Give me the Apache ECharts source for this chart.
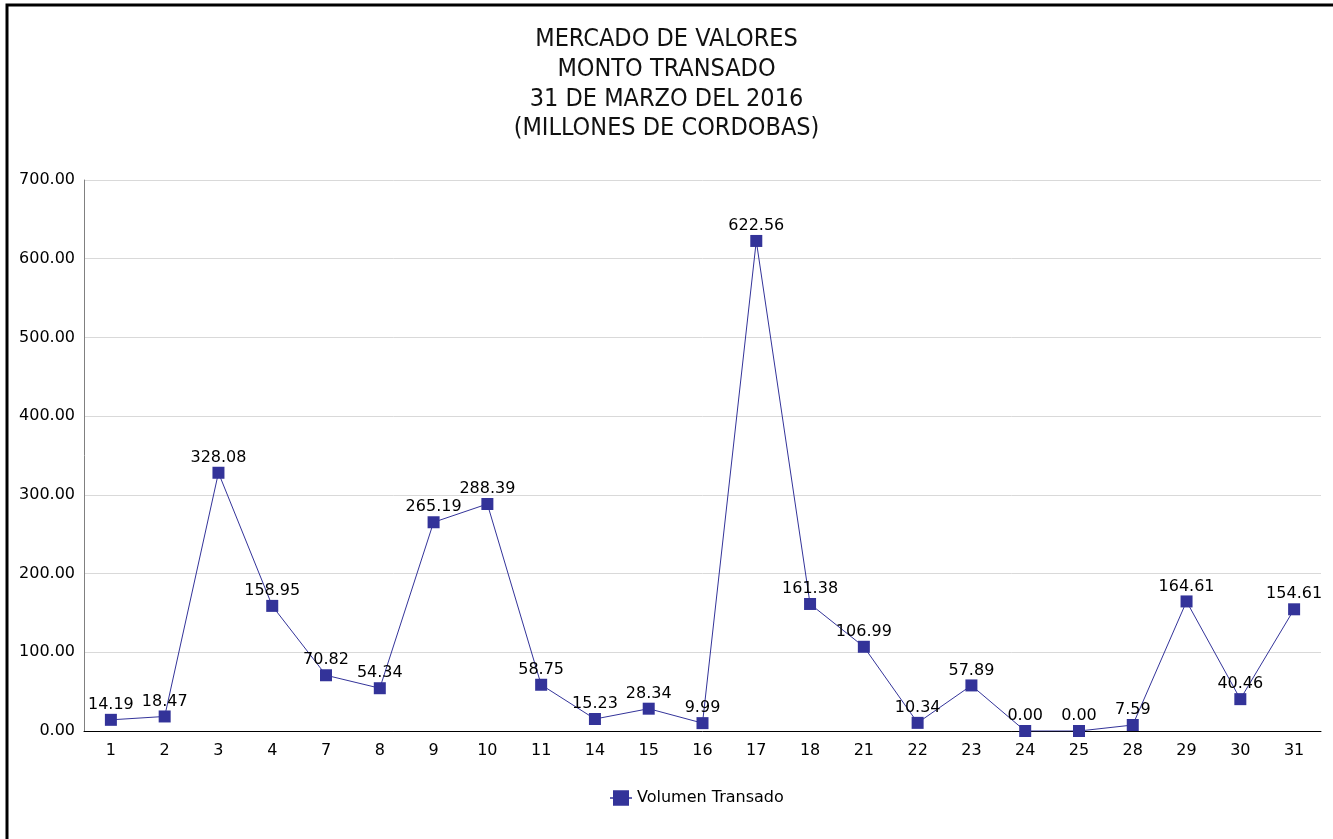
<!DOCTYPE html>
<html>
<head>
<meta charset="utf-8">
<script src="https://cdn.jsdelivr.net/npm/echarts@6/dist/echarts.min.js"></script>
<style>
  html, body { margin: 0; padding: 0; background: #fff; }
  #chart { width: 1333px; height: 839px; }
</style>
</head>
<body>
<div id="chart"></div>
<script>
// dias del mes con operaciones
const dias = ["1", "2", "3", "4", "7", "8", "9", "10", "11", "14", "15", "16",
  "17", "18", "21", "22", "23", "24", "25", "28", "29", "30", "31"];
// monto transado (millones de cordobas)
const volumen = [14.19, 18.47, 328.08, 158.95, 70.82, 54.34, 265.19, 288.39, 58.75,
  15.23, 28.34, 9.99, 622.56, 161.38, 106.99, 10.34, 57.89, 0.00, 0.00, 7.59,
  164.61, 40.46, 154.61];
const tituloLineas = ["MERCADO DE VALORES", "MONTO TRANSADO", "31 DE MARZO DEL 2016", "(MILLONES DE CORDOBAS)"];

const fuente = "DejaVu Sans";
const chart = echarts.init(document.getElementById("chart"));

chart.setOption({
  animation: false,
  backgroundColor: "#fff",
  textStyle: { fontFamily: fuente },
  title: {
    text: tituloLineas.join("\n"),
    left: "center",
    top: 20,
    textStyle: {
      fontFamily: "'DejaVu Sans Condensed', 'DejaVu Sans'",
      fontSize: 25,
      fontWeight: "normal",
      color: "#111",
      lineHeight: 29.7,
    },
  },
  graphic: [
    {
      type: "rect",
      shape: { x: 7, y: 5, width: 1400, height: 900 },
      style: { fill: null, stroke: "#000", lineWidth: 3 },
      silent: true,
    },
  ],
  legend: {
    bottom: 28,
    left: 605,
    itemWidth: 22,
    itemHeight: 16,
    itemGap: 6,
    textStyle: { fontFamily: fuente, fontSize: 16, color: "#000" },
    data: [{
      name: "Volumen Transado",
      icon: "path://M0,7h3v-7h16v7h3v1.5h-3v7h-16v-7h-3z",
    }],
  },
  grid: { left: 84, right: 12, top: 180, bottom: 108, containLabel: false },
  xAxis: {
    type: "category",
    data: dias,
    boundaryGap: true,
    axisLine: { lineStyle: { color: "#000", width: 1 } },
    axisTick: { show: false },
    axisLabel: { color: "#000", fontSize: 16, margin: 12, fontFamily: fuente },
  },
  yAxis: {
    type: "value",
    min: 0,
    max: 700,
    interval: 100,
    axisLine: { show: true, lineStyle: { color: "#808080" } },
    axisTick: { show: false },
    axisLabel: {
      color: "#000",
      fontSize: 16,
      margin: 9,
      fontFamily: fuente,
      formatter: (v) => v.toFixed(2),
    },
    splitLine: { lineStyle: { color: "#d9d9d9" } },
  },
  series: [
    {
      name: "Volumen Transado",
      type: "line",
      data: volumen,
      symbol: "rect",
      symbolSize: 12,
      itemStyle: { color: "#333399" },
      lineStyle: { color: "#333399", width: 1 },
      label: {
        show: true,
        position: "top",
        distance: 1,
        color: "#000",
        fontSize: 16,
        fontFamily: fuente,
        formatter: (p) => p.value.toFixed(2),
      },
    },
  ],
});
</script>
</body>
</html>
